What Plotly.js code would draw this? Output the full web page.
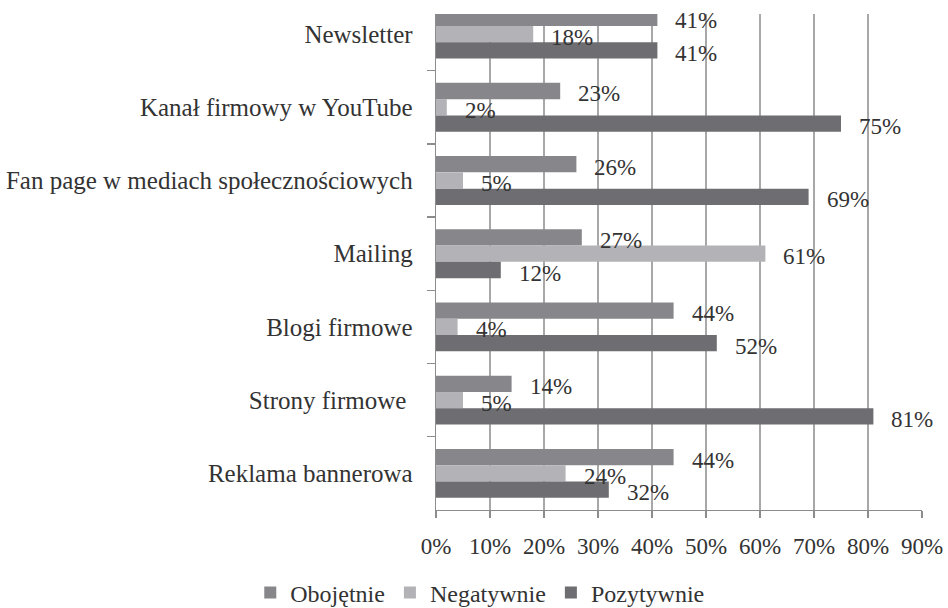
<!DOCTYPE html>
<html>
<head>
<meta charset="utf-8">
<script src="https://cdn.plot.ly/plotly-3.0.1.min.js"></script>
<style>html,body{margin:0;padding:0;background:#fff;}#chart{width:948px;height:608px;}</style>
</head>
<body>
<div id="chart"></div>
<script>
const categories = ["Newsletter", "Kanał firmowy w YouTube", "Fan page w mediach społecznościowych", "Mailing", "Blogi firmowe", "Strony firmowe ", "Reklama bannerowa"];
const seriesNames = ["Obojętnie", "Negatywnie", "Pozytywnie"];
const obojetnie = [41, 23, 26, 27, 44, 14, 44];
const negatywnie = [18, 2, 5, 61, 4, 5, 24];
const pozytywnie = [41, 75, 69, 12, 52, 81, 32];
const xTickVals = [0, 10, 20, 30, 40, 50, 60, 70, 80, 90];
const xTickText = ["0%", "10%", "20%", "30%", "40%", "50%", "60%", "70%", "80%", "90%"];

const colors = ["#87878b", "#b3b3b7", "#6e6e72"];
const allValues = [obojetnie, negatywnie, pozytywnie];
const FONT = "Liberation Serif, Times New Roman, serif";
const TXT = "#333333";

const traces = allValues.map((vals, i) => ({
  type: "bar",
  orientation: "h",
  name: seriesNames[i],
  x: vals,
  y: categories,
  marker: {color: colors[i], line: {width: 0}},
  hoverinfo: "x+y+name"
}));

const shifts = [16.3, 0, -16.3];
const annotations = [];
allValues.forEach((vals, i) => {
  vals.forEach((v, j) => {
    annotations.push({
      x: v, y: categories[j], xref: "x", yref: "y",
      text: v + "%", showarrow: false,
      xanchor: "left", yanchor: "middle",
      xshift: 16, yshift: shifts[i] - 3,
      font: {family: FONT, size: 23, color: TXT}
    });
  });
});

const layout = {
  width: 948, height: 608,
  margin: {l: 435.5, r: 26, t: 14, b: 97.5, pad: 0},
  paper_bgcolor: "#ffffff", plot_bgcolor: "#ffffff",
  barmode: "group", bargap: 0.333, bargroupgap: 0,
  font: {family: FONT, size: 23, color: TXT},
  showlegend: true,
  legend: {
    orientation: "h", xref: "container", yref: "container",
    x: 0.264, xanchor: "left", y: 0.0247, yanchor: "middle",
    font: {family: FONT, size: 24, color: TXT}, traceorder: "normal",
    itemclick: false, itemdoubleclick: false
  },
  xaxis: {
    range: [0, 90], tickvals: xTickVals, ticktext: xTickText,
    showgrid: true, gridcolor: "#a8a8a8", gridwidth: 1.3,
    zeroline: false, showline: true, linecolor: "#8c8c8c", linewidth: 1.3,
    ticks: "outside", ticklen: 7, tickcolor: "#8c8c8c", tickwidth: 1.3,
    ticklabelstandoff: 8,
    tickfont: {family: FONT, size: 23, color: TXT},
    automargin: false, fixedrange: true
  },
  yaxis: {
    type: "category", categoryorder: "array", categoryarray: categories,
    range: [6.5, -0.274],
    showgrid: false, zeroline: false, showline: true, linecolor: "#8c8c8c", linewidth: 1.3,
    ticks: "outside", tickson: "boundaries", ticklen: 8, tickcolor: "#8c8c8c", tickwidth: 1.3,
    ticklabelstandoff: 17,
    tickfont: {family: FONT, size: 25, color: TXT},
    automargin: false, fixedrange: true
  },
  annotations: annotations
};

Plotly.newPlot("chart", traces, layout, {displayModeBar: false, staticPlot: true});
</script>
</body>
</html>
